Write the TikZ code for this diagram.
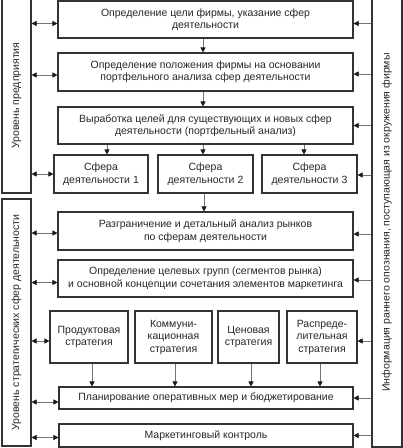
\documentclass[tikz,border=0pt]{standalone}
\usepackage{fontspec}
\setmainfont{Liberation Sans}
\usetikzlibrary{arrows.meta}
\begin{document}
\begin{tikzpicture}[x=1pt,y=-1pt,
  box/.style={draw=black!80,line width=1.1pt,inner sep=1pt,align=center,
    text=black!85,font=\fontsize{10.5}{12.5}\selectfont},
  bar/.style={draw=black!80,line width=1.1pt,inner sep=0pt},
  vtext/.style={rotate=90,text=black!85,font=\fontsize{10.5}{12.5}\selectfont},
  arr/.style={draw=black!55,line width=0.6pt,-{Triangle[length=5pt,width=5pt,color=black!90]}},
  dbl/.style={draw=black!55,line width=0.6pt,{Triangle[length=5pt,width=5pt,color=black!90]}-{Triangle[length=5pt,width=5pt,color=black!90]}}]
\clip (0,0) rectangle (403,448);
% side bars
\node[bar,minimum width=29pt,minimum height=195pt] (lu) at (16.5,95.5) {};
\node[bar,minimum width=29pt,minimum height=247pt] (ll) at (16.5,322.5) {};
\node[bar,minimum width=30pt,minimum height=449pt] (rb) at (387,222.5) {};
\node[vtext] at (lu.center) {Уровень предприятия};
\node[vtext] at (ll.center) {Уровень стратегических сфер деятельности};
\node[vtext] at (rb.center) {Информация раннего опознания, поступающая из окружения фирмы};
% main boxes
\node[box,minimum width=295pt,minimum height=37pt] (b1) at (205.5,19.5) {Определение цели фирмы, указание сфер\\деятельности};
\node[box,minimum width=295pt,minimum height=38pt] (b2) at (205.5,72) {Определение положения фирмы на основании\\портфельного анализа сфер деятельности};
\node[box,minimum width=295pt,minimum height=37pt] (b3) at (205.5,125.5) {Выработка целей для существующих и новых сфер\\деятельности (портфельный анализ)};
\node[box,minimum width=94pt,minimum height=38pt] (s1) at (101,174) {Сфера\\деятельности 1};
\node[box,minimum width=95pt,minimum height=38pt] (s2) at (205.5,174) {Сфера\\деятельности 2};
\node[box,minimum width=95pt,minimum height=38pt] (s3) at (309.5,174) {Сфера\\деятельности 3};
\node[box,minimum width=295pt,minimum height=38pt] (b4) at (205.5,231) {Разграничение и детальный анализ рынков\\по сферам деятельности};
\node[box,minimum width=295pt,minimum height=37pt] (b5) at (205.5,278.5) {Определение целевых групп (сегментов рынка)\\и основной концепции сочетания элементов маркетинга};
\node[box,minimum width=78pt,minimum height=52pt] (p) at (89,337) {Продуктовая\\стратегия};
\node[box,minimum width=77pt,minimum height=52pt] (k) at (173.5,337) {Коммуни-\\кационная\\стратегия};
\node[box,minimum width=61pt,minimum height=52pt] (c) at (248.5,337) {Ценовая\\стратегия};
\node[box,minimum width=70pt,minimum height=52pt] (r) at (322,337) {Распреде-\\лительная\\стратегия};
\node[box,minimum width=294pt,minimum height=22pt] (pl) at (206,398) {Планирование оперативных мер и бюджетирование};
\node[box,minimum width=294pt,minimum height=23pt] (mk) at (206,435.5) {Маркетинговый контроль};
% vertical arrows
\draw[arr] ([xshift=-2.5pt]b1.south) -- ([xshift=-2.5pt]b2.north);
\draw[arr] ([xshift=-2.5pt]b2.south) -- ([xshift=-2.5pt]b3.north);
\draw[arr] ([xshift=6pt]s1.north |- b3.south) -- ([xshift=6pt]s1.north);
\draw[arr] ([xshift=-2.5pt]s2.north |- b3.south) -- ([xshift=-2.5pt]s2.north);
\draw[arr] ([xshift=-5.5pt]s3.north |- b3.south) -- ([xshift=-5.5pt]s3.north);
\draw[arr] ([xshift=-1.5pt]s2.south) -- ([xshift=-1.5pt]s2.south |- b4.north);
\draw[arr] ([xshift=3pt]p.south) -- ([xshift=3pt]p.south |- pl.north);
\draw[arr] ([xshift=1.5pt]k.south) -- ([xshift=1.5pt]k.south |- pl.north);
\draw[arr] ([xshift=2.5pt]c.south) -- ([xshift=2.5pt]c.south |- pl.north);
\draw[arr] ([xshift=-2pt]r.south) -- ([xshift=-2pt]r.south |- pl.north);
% left double arrows
\draw[dbl] ([yshift=-4pt]lu.east |- b1.west) -- ([yshift=-4pt]b1.west);
\draw[dbl] ([yshift=-3pt]lu.east |- b2.west) -- ([yshift=-3pt]b2.west);
\draw[dbl] (lu.east |- s1.west) -- (s1.west);
\draw[dbl] ([yshift=-2pt]ll.east |- b4.west) -- ([yshift=-2pt]b4.west);
\draw[dbl] ([yshift=-4pt]ll.east |- b5.west) -- ([yshift=-4pt]b5.west);
\draw[dbl] ([yshift=-4pt]ll.east |- p.west) -- ([yshift=-4pt]p.west);
\draw[dbl] ([yshift=-4pt]ll.east |- pl.west) -- ([yshift=-4pt]pl.west);
\draw[dbl] ([yshift=-2pt]ll.east |- mk.west) -- ([yshift=-2pt]mk.west);
% right arrows
\draw[arr] ([yshift=-4pt]rb.west |- b1.east) -- ([yshift=-4pt]b1.east);
\draw[arr] ([yshift=-2pt]rb.west |- b2.east) -- ([yshift=-2pt]b2.east);
\draw[arr] (rb.west |- b3.east) -- (b3.east);
\draw[arr] ([yshift=-1pt]rb.west |- s3.east) -- ([yshift=-1pt]s3.east);
\draw[arr] ([yshift=-3pt]rb.west |- b4.east) -- ([yshift=-3pt]b4.east);
\draw[arr] ([yshift=-1.5pt]rb.west |- b5.east) -- ([yshift=-1.5pt]b5.east);
\draw[arr] ([yshift=-4pt]rb.west |- r.east) -- ([yshift=-4pt]r.east);
\draw[arr] (rb.west |- pl.east) -- (pl.east);
\draw[arr] (rb.west |- mk.east) -- (mk.east);
\end{tikzpicture}
\end{document}
